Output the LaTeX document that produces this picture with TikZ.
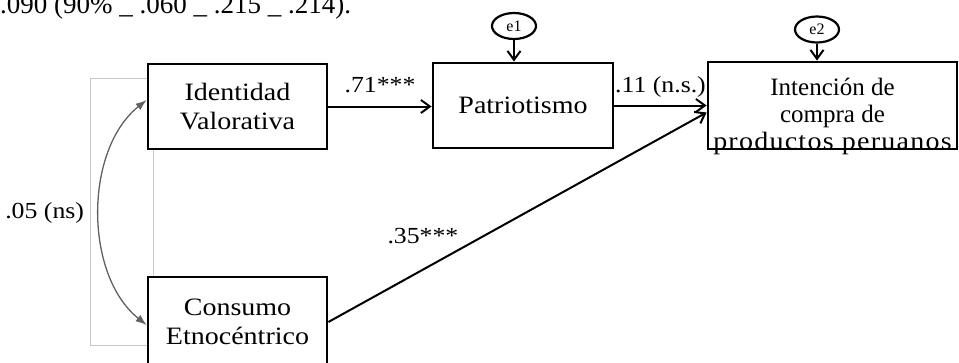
\documentclass[tikz,border=0pt]{standalone}
\usepackage{fontspec}
\setmainfont{Liberation Serif}
\newfontfamily\widefont{Liberation Serif}[FakeStretch=1.12]
\newfontfamily\spacedfont{Liberation Serif}[FakeStretch=1.12,LetterSpace=5]
\usetikzlibrary{arrows.meta,shapes.geometric,calc}
\begin{document}
\begin{tikzpicture}[x=1pt,y=-1pt,
  box/.style={draw, line width=2.8pt, fill=white, inner sep=0pt, align=center,
    font=\widefont\fontsize{25}{29.5}\selectfont},
  errnode/.style={ellipse, draw, line width=2.2pt, minimum width=44pt, minimum height=26pt,
    inner sep=0pt, fill=white, font=\fontsize{16}{16}\selectfont},
  arr/.style={line width=2pt, -{Straight Barb[length=9pt,width=13pt]}},
  corr/.style={draw=black!62, line width=1.3pt,
    {Latex[length=11pt,width=8pt]}-{Latex[length=11pt,width=8pt]}},
  lab/.style={font=\widefont\fontsize{23}{23}\selectfont, inner sep=0pt, anchor=base},
  grayframe/.style={draw=black!22, line width=1pt}
]
\useasboundingbox (0,0) rectangle (959,362);
\clip (0,0) rectangle (959,362);

\node[lab, anchor=base west, font=\fontsize{27}{27}\selectfont] (hdr) at (0,13.5)
  {.090 (90\% \_ .060 \_ .215 \_ .214).};

\draw[grayframe] (90,78) rectangle (153,345);

\node[box, minimum width=179pt, minimum height=85pt] (iv) at (237.5,106.5) {Identidad\\Valorativa};
\node[box, minimum width=180pt, minimum height=85pt] (pat) at (523,105.5) {Patriotismo};
\node[box, minimum width=249pt, minimum height=87pt, font=\fontsize{25}{27}\selectfont] (int) at (832.5,105.5)
  {\rule{0pt}{33pt}Intención de\\compra de\\\raisebox{0pt}[\height][0pt]{\spacedfont productos peruanos}};
\node[box, minimum width=179pt, minimum height=90pt] (ce) at (237.5,322) {Consumo\\Etnocéntrico};

\node[errnode] (e1) at (514,26) {e1};
\node[errnode] (e2) at (817,29.5) {e2};

\draw[arr] (iv.east) -- (iv.east -| pat.west) node[lab, midway, yshift=14pt] {.71***};
\draw[arr] (pat.east) -- (pat.east -| int.west) node[lab, midway, yshift=13pt] {.11 (n.s.)};
\draw[arr] (ce.east) -- ($(int.west)+(0,7)$) node[lab, pos=0.25, yshift=26pt] {.35***};
\draw[arr] (e1.south) -- (e1.south |- pat.north);
\draw[arr] (e2.south) -- (e2.south |- int.north);

\draw[corr] ($(iv.west)+(0,-6.5)$) .. controls (84,150) and (84,275) .. ($(ce.west)+(0,3)$)
  node[lab, midway, anchor=base east, xshift=-15pt, yshift=-5.5pt] {.05 (ns)};
\end{tikzpicture}
\end{document}
